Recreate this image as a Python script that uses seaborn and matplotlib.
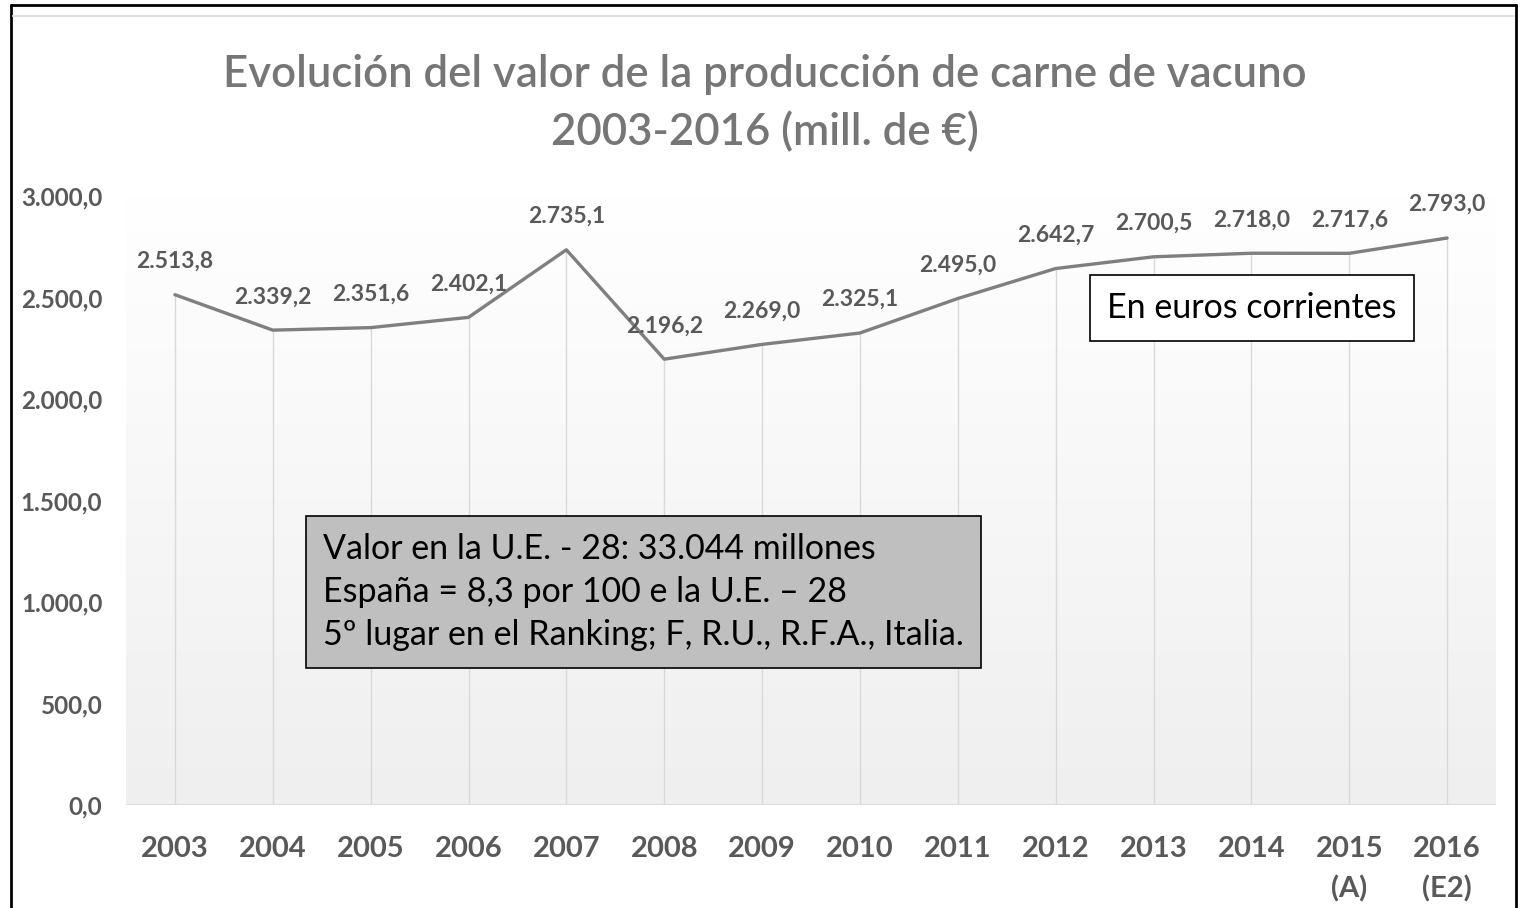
import numpy as np
import pandas as pd
import seaborn as sns
import matplotlib.pyplot as plt
from matplotlib.lines import Line2D

years = [2003, 2004, 2005, 2006, 2007, 2008, 2009, 2010, 2011, 2012, 2013, 2014, 2015, 2016]
values = [2513.8, 2339.2, 2351.6, 2402.1, 2735.1, 2196.2, 2269.0, 2325.1,
          2495.0, 2642.7, 2700.5, 2718.0, 2717.6, 2793.0]
year_labels = ["2003", "2004", "2005", "2006", "2007", "2008", "2009", "2010",
               "2011", "2012", "2013", "2014", "2015\n(A)", "2016\n(E2)"]
y_ticks = [0, 500, 1000, 1500, 2000, 2500, 3000]

title = "Evolución del valor de la producción de carne de vacuno\n2003-2016 (mill. de €)"
note_box = ("Valor en la U.E. - 28: 33.044 millones\n"
            "España = 8,3 por 100 e la U.E. – 28\n"
            "5º lugar en el Ranking; F, R.U., R.F.A., Italia.")
euro_box = "En euros corrientes"


def fmt_es(v):
    # 2513.8 -> 2.513,8
    s = f"{v:,.1f}"
    return s.replace(",", "X").replace(".", ",").replace("X", ".")


sns.set_theme(style="white")
plt.rcParams['font.family'] = ['Lato', 'DejaVu Sans']

df = pd.DataFrame({"year": years, "value": values})

W, H = 1525, 908
fig = plt.figure(figsize=(W / 100, H / 100), dpi=100)
fig.patch.set_facecolor("white")
ax = fig.add_axes([126 / W, 1 - 805 / H, (1496 - 126) / W, (805 - 196) / H])

# background gradient white -> light grey
grad = np.linspace(0, 1, 256).reshape(-1, 1)
ax.imshow(grad, extent=[2002.5, 2016.5, 0, 3000], aspect="auto",
          cmap=plt.matplotlib.colors.LinearSegmentedColormap.from_list("g", ["#efefef", "#ffffff"]),
          origin="lower", zorder=0)

# drop lines
ax.vlines(df["year"], 0, df["value"], color="#d9d9d9", lw=1.0, zorder=1)
ax.axhline(0, color="#d9d9d9", lw=1.2, zorder=1)

sns.lineplot(data=df, x="year", y="value", ax=ax, color="#7f7f7f", lw=2.4, zorder=3)

for x, v in zip(years, values):
    ax.annotate(fmt_es(v), (x, v), xytext=(0, 24), textcoords="offset points",
                ha="center", va="center", fontsize=16.5, fontweight="bold",
                color="#595959", zorder=4)

ax.set_xlim(2002.5, 2016.5)
ax.set_ylim(0, 3000)
ax.set_xticks(years)
ax.set_xticklabels(year_labels, fontsize=21, fontweight="bold", color="#595959",
                   linespacing=1.6)
ax.set_yticks(y_ticks)
ax.set_yticklabels([fmt_es(t) for t in y_ticks], fontsize=17.5, fontweight="bold", color="#595959")
ax.tick_params(axis="x", length=0, pad=22)
ax.tick_params(axis="y", length=0, pad=17)
ax.set_xlabel("")
ax.set_ylabel("")
for s in ax.spines.values():
    s.set_visible(False)

fig.text(765 / W, 1 - 104 / H, title, ha="center", va="center", fontsize=31.5,
         color="#767676", linespacing=1.5, fontweight="semibold")

fig.text(1252 / W, 1 - 308 / H, euro_box, ha="center", va="center", fontsize=24.5,
         color="black",
         bbox=dict(boxstyle="square,pad=0.5", facecolor="white", edgecolor="black", lw=1.2))

fig.text(323 / W, 1 - 592 / H, note_box, ha="left", va="center", fontsize=24.5,
         color="black", linespacing=1.42,
         bbox=dict(boxstyle="square,pad=0.5", facecolor="#bfbfbf", edgecolor="black", lw=1.2))

# outer frame
fig.add_artist(Line2D([11 / W, 11 / W], [0, 1 - 5 / H], color="black", lw=2))
fig.add_artist(Line2D([11 / W, 1516 / W], [1 - 5 / H, 1 - 5 / H], color="black", lw=2))
fig.add_artist(Line2D([1516 / W, 1516 / W], [0, 1 - 5 / H], color="black", lw=2))
fig.add_artist(Line2D([13 / W, 1514 / W], [1 - 16 / H, 1 - 16 / H], color="#e0e0e0", lw=1.5))

fig.savefig("out.png", dpi=100)
